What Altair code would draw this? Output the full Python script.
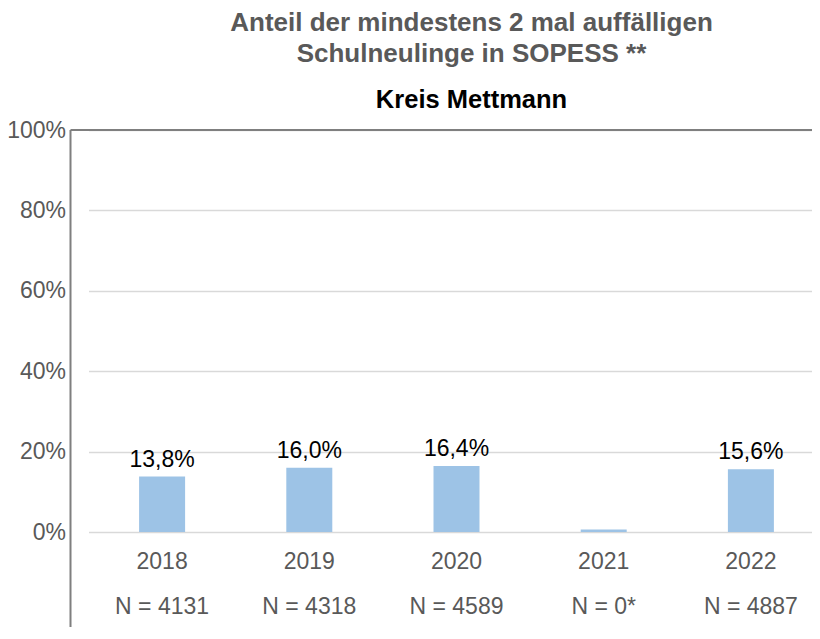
import altair as alt
import pandas as pd

years = ["2018", "2019", "2020", "2021", "2022"]
values = [13.8, 16.0, 16.4, 0.6, 15.6]
n_counts = ["4131", "4318", "4589", "0*", "4887"]
show_label = [True, True, True, False, True]
y_ticks = [0, 20, 40, 60, 80, 100]

title_lines = ["Anteil der mindestens 2 mal auffälligen", "Schulneulinge in SOPESS **"]
subtitle = "Kreis Mettmann"

df = pd.DataFrame({
    "cat": [f"{y}|N = {n}" for y, n in zip(years, n_counts)],
    "value": values,
    "show": show_label,
})

FONT = "Liberation Sans"
W = 736
H = 402
GRAY = "#595959"

x = alt.X("cat:N", sort=None,
          scale=alt.Scale(paddingInner=0, paddingOuter=0),
          axis=alt.Axis(title=None, labelExpr="split(datum.label, '|')",
                        labelAngle=0, ticks=False, domain=False,
                        labelPadding=18, labelLineHeight=45,
                        labelFontSize=23, labelColor=GRAY, labelFont=FONT))
y = alt.Y("value:Q", scale=alt.Scale(domain=[0, 100], nice=False),
          axis=alt.Axis(title=None, values=y_ticks, labelExpr="datum.value + '%'",
                        ticks=False, domain=False, offset=18, labelPadding=5,
                        labelFontSize=23, labelColor=GRAY, labelFont=FONT,
                        grid=True, gridColor="#D9D9D9", gridWidth=1.5))

bars = alt.Chart(df).mark_bar(color="#9DC3E6", size=46).encode(x=x, y=y)

labels = alt.Chart(df).transform_filter("datum.show").transform_calculate(
    txt="replace(format(datum.value, '.1f'), '.', ',') + '%'"
).mark_text(baseline="alphabetic", dy=-10, fontSize=23, font=FONT, color="#000000").encode(
    x=alt.X("cat:N", sort=None), y=alt.Y("value:Q"), text="txt:N")

border_df = pd.DataFrame({"k": [0]})
left_line = alt.Chart(border_df).mark_rule(color="#7F7F7F", strokeWidth=2).encode(
    x=alt.value(-18), y=alt.value(0), y2=alt.value(509))
top_line = alt.Chart(border_df).mark_rule(color="#7F7F7F", strokeWidth=2).encode(
    x=alt.value(-18), x2=alt.value(W), y=alt.value(0))

chart = alt.layer(bars, labels, left_line, top_line).properties(
    width=W, height=H,
    autosize=alt.AutoSizeParams(type="none"),
    padding={"left": 80.5, "top": 122, "right": -12.5, "bottom": 95},
    title=alt.TitleParams(
        text=title_lines, subtitle=subtitle,
        font=FONT, fontSize=26, fontWeight="bold", color=GRAY, lineHeight=30.5,
        subtitleFont=FONT, subtitleFontSize=25.5, subtitleFontWeight="bold",
        subtitleColor="#000000", subtitlePadding=21, offset=6,
        anchor="middle", dx=15),
).configure_view(stroke=None)

chart.save("out.html", embed_options={"renderer": "svg", "actions": False})
